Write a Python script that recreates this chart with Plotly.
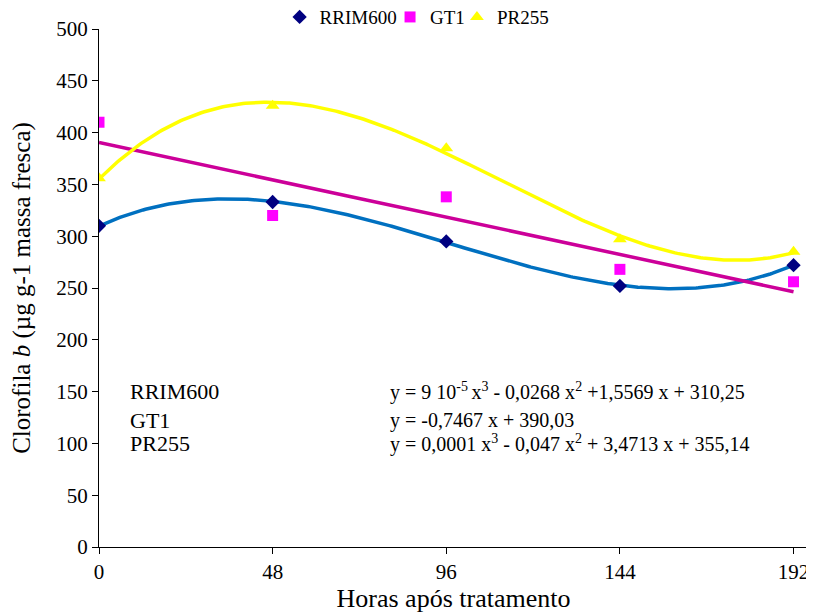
import numpy as np
import plotly.graph_objects as go

hours = [0, 48, 96, 144, 192]
rrim600 = [310, 333, 295, 252, 272]
gt1 = [410, 320, 338, 268, 256]
pr255 = [356, 426, 385, 297, 285]

series_names = ["RRIM600", "GT1", "PR255"]
equations = [
    "y = 9 10<sup>-5 </sup>x<sup>3</sup> - 0,0268 x<sup>2</sup> +1,5569 x + 310,25",
    "y = -0,7467 x + 390,03",
    "y = 0,0001 x<sup>3</sup> - 0,047 x<sup>2</sup> + 3,4713 x + 355,14",
]
eq_y = [150, 122, 100]

FONT = "Liberation Serif"

xs = np.linspace(0, 192, 300)
fits = [
    (rrim600, 3, "#0070C0"),
    (gt1, 1, "#CC0099"),
    (pr255, 3, "#FFFF00"),
]

fig = go.Figure()
for vals, deg, col in fits:
    c = np.polyfit(hours, vals, deg)
    fig.add_trace(go.Scatter(x=xs, y=np.polyval(c, xs), mode="lines",
                             line=dict(color=col, width=3.5), showlegend=False,
                             hoverinfo="skip"))

fig.add_trace(go.Scatter(x=hours, y=rrim600, mode="markers", name="RRIM600", legend="legend",
                         marker=dict(symbol="diamond", size=11, color="#000080")))
fig.add_trace(go.Scatter(x=hours, y=gt1, mode="markers", name="GT1", legend="legend2",
                         marker=dict(symbol="square", size=11, color="#FF00FF")))
fig.add_trace(go.Scatter(x=hours, y=pr255, mode="markers", name="PR255", legend="legend3",
                         marker=dict(symbol="triangle-up", size=12, color="#FFFF00")))

for name, eq, yv in zip(series_names, equations, eq_y):
    fig.add_annotation(x=8, y=yv, text=name, showarrow=False, xanchor="left",
                       yanchor="middle", font=dict(family=FONT, size=22, color="black"))
    fig.add_annotation(x=80, y=yv, text=eq, showarrow=False, xanchor="left",
                       yanchor="middle", font=dict(family=FONT, size=20, color="black"))

def leg(xfrac):
    return dict(orientation="h", x=xfrac, y=0.985, xref="container", yref="container",
                xanchor="left", yanchor="middle",
                font=dict(family=FONT, size=19), bgcolor="rgba(0,0,0,0)")

# page has an 8px body margin, so the figure is drawn 8px smaller and shifted
fig.update_layout(
    width=806, height=606,
    margin=dict(l=91, r=6, t=21, b=67, autoexpand=False),
    paper_bgcolor="white", plot_bgcolor="white",
    font=dict(family=FONT, size=20, color="black"),
    legend=leg(0.337), legend2=leg(0.474), legend3=leg(0.557),
    xaxis=dict(range=[0, 196], tickvals=[0, 48, 96, 144, 192], showgrid=False,
               zeroline=False, showline=True, linecolor="black", linewidth=1,
               ticks="outside", ticklen=6, tickcolor="black", automargin=False,
               tickfont=dict(family=FONT, size=21),
               title=dict(text="Horas após tratamento", font=dict(family=FONT, size=26), standoff=4)),
    yaxis=dict(range=[0, 500], tickvals=list(range(0, 501, 50)), showgrid=False,
               zeroline=False, showline=True, linecolor="black", linewidth=1,
               ticks="outside", ticklen=6, tickcolor="black", automargin=True,
               tickfont=dict(family=FONT, size=21),
               title=dict(text="Clorofila <i>b</i> (µg g-1 massa fresca)",
                          font=dict(family=FONT, size=25), standoff=19)),
)

fig.write_html("out.html")
